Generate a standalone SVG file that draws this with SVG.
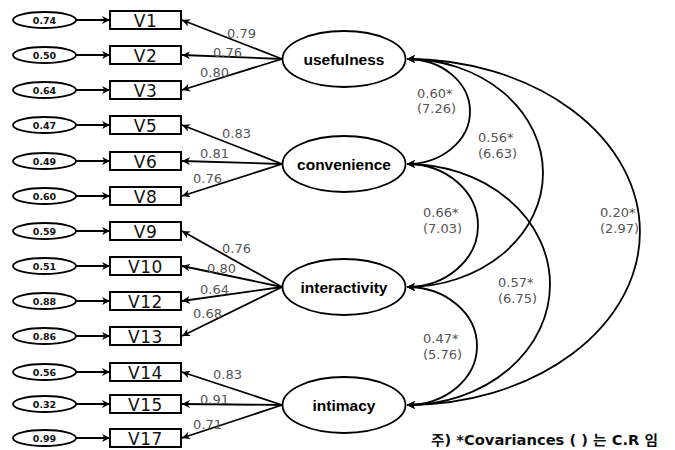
<svg xmlns="http://www.w3.org/2000/svg" width="675" height="450" viewBox="0 0 675 450">
<style>
.err{fill:#fff;stroke:#000;stroke-width:1.8}
.box{fill:#fff;stroke:#000;stroke-width:2}
.fac{fill:#fff;stroke:#000;stroke-width:1.8}
.ev{font-family:"DejaVu Sans",sans-serif;font-size:9.5px;font-weight:bold;fill:#111;text-anchor:middle}
.vl{font-family:"DejaVu Sans",sans-serif;font-size:17px;fill:#111;text-anchor:middle;letter-spacing:0.5px}
.fl{font-family:"Liberation Sans",Arial,sans-serif;font-size:15.5px;font-weight:bold;fill:#000;text-anchor:middle}
.ld{font-family:"DejaVu Sans",sans-serif;font-size:13px;fill:#555}
.cv{font-family:"DejaVu Sans",sans-serif;font-size:13px;fill:#555}
.ln{stroke:#000;stroke-width:1.8;fill:none}
.note{font-family:"DejaVu Sans","Noto Sans CJK KR",sans-serif;font-size:14px;font-weight:bold;fill:#111}
</style>
<defs>
<marker id="ah" viewBox="0 0 10 10" refX="10" refY="5" markerWidth="8" markerHeight="8" markerUnits="userSpaceOnUse" orient="auto-start-reverse">
<path d="M0,0 L10,5 L0,10 L3,5 z" fill="#000"/>
</marker>
</defs>

<g id="connectors">
<g class="ln" marker-end="url(#ah)">
<line x1="76" y1="20" x2="110" y2="20"/>
<line x1="76" y1="55" x2="110" y2="55"/>
<line x1="76" y1="90" x2="110" y2="90"/>
<line x1="76" y1="125" x2="110" y2="125"/>
<line x1="76" y1="161" x2="110" y2="161"/>
<line x1="76" y1="196" x2="110" y2="196"/>
<line x1="76" y1="231" x2="110" y2="231"/>
<line x1="76" y1="266" x2="110" y2="266"/>
<line x1="76" y1="301" x2="110" y2="301"/>
<line x1="76" y1="336" x2="110" y2="336"/>
<line x1="76" y1="372" x2="110" y2="372"/>
<line x1="76" y1="404" x2="110" y2="404"/>
<line x1="76" y1="438" x2="110" y2="438"/>
</g>
<g class="ln" marker-end="url(#ah)">
<line x1="282" y1="59" x2="182" y2="20"/>
<line x1="282" y1="59" x2="182" y2="55"/>
<line x1="282" y1="59" x2="182" y2="90"/>
<line x1="282" y1="164" x2="182" y2="125"/>
<line x1="282" y1="164" x2="182" y2="161"/>
<line x1="282" y1="164" x2="182" y2="196"/>
<line x1="282" y1="287" x2="182" y2="231"/>
<line x1="282" y1="287" x2="182" y2="266"/>
<line x1="282" y1="287" x2="182" y2="301"/>
<line x1="282" y1="287" x2="182" y2="336"/>
<line x1="282" y1="405" x2="182" y2="372"/>
<line x1="282" y1="405" x2="182" y2="404"/>
<line x1="282" y1="405" x2="182" y2="438"/>
</g>
<g class="ln" marker-start="url(#ah)" marker-end="url(#ah)">
<path d="M407,59 A63,52.5 0 0 1 407,164"/>
<path d="M407,59 A136,114 0 0 1 407,287"/>
<path d="M407,59 A233,173 0 0 1 407,405"/>
<path d="M407,164 A71,61.5 0 0 1 407,287"/>
<path d="M407,164 A143,120.5 0 0 1 407,405"/>
<path d="M407,287 A70,59 0 0 1 407,405"/>
</g>
</g>

<g id="errors">
<g id="e1"><ellipse class="err" cx="44.5" cy="20" rx="31.5" ry="8"/><text class="ev" x="44.5" y="23.5">0.74</text></g>
<g id="e2"><ellipse class="err" cx="44.5" cy="55" rx="31.5" ry="8"/><text class="ev" x="44.5" y="58.5">0.50</text></g>
<g id="e3"><ellipse class="err" cx="44.5" cy="90" rx="31.5" ry="8"/><text class="ev" x="44.5" y="93.5">0.64</text></g>
<g id="e5"><ellipse class="err" cx="44.5" cy="125" rx="31.5" ry="8"/><text class="ev" x="44.5" y="128.5">0.47</text></g>
<g id="e6"><ellipse class="err" cx="44.5" cy="161" rx="31.5" ry="8"/><text class="ev" x="44.5" y="164.5">0.49</text></g>
<g id="e8"><ellipse class="err" cx="44.5" cy="196" rx="31.5" ry="8"/><text class="ev" x="44.5" y="199.5">0.60</text></g>
<g id="e9"><ellipse class="err" cx="44.5" cy="231" rx="31.5" ry="8"/><text class="ev" x="44.5" y="234.5">0.59</text></g>
<g id="e10"><ellipse class="err" cx="44.5" cy="266" rx="31.5" ry="8"/><text class="ev" x="44.5" y="269.5">0.51</text></g>
<g id="e12"><ellipse class="err" cx="44.5" cy="301" rx="31.5" ry="8"/><text class="ev" x="44.5" y="304.5">0.88</text></g>
<g id="e13"><ellipse class="err" cx="44.5" cy="336" rx="31.5" ry="8"/><text class="ev" x="44.5" y="339.5">0.86</text></g>
<g id="e14"><ellipse class="err" cx="44.5" cy="372" rx="31.5" ry="8"/><text class="ev" x="44.5" y="375.5">0.56</text></g>
<g id="e15"><ellipse class="err" cx="44.5" cy="404" rx="31.5" ry="8"/><text class="ev" x="44.5" y="407.5">0.32</text></g>
<g id="e17"><ellipse class="err" cx="44.5" cy="438" rx="31.5" ry="8"/><text class="ev" x="44.5" y="441.5">0.99</text></g>
</g>

<g id="indicators">
<g id="V1"><rect class="box" x="110" y="11" width="71" height="18"/><text class="vl" x="145.5" y="26.5">V1</text></g>
<g id="V2"><rect class="box" x="110" y="46" width="71" height="18"/><text class="vl" x="145.5" y="61.5">V2</text></g>
<g id="V3"><rect class="box" x="110" y="81" width="71" height="18"/><text class="vl" x="145.5" y="96.5">V3</text></g>
<g id="V5"><rect class="box" x="110" y="116" width="71" height="18"/><text class="vl" x="145.5" y="131.5">V5</text></g>
<g id="V6"><rect class="box" x="110" y="152" width="71" height="18"/><text class="vl" x="145.5" y="167.5">V6</text></g>
<g id="V8"><rect class="box" x="110" y="187" width="71" height="18"/><text class="vl" x="145.5" y="202.5">V8</text></g>
<g id="V9"><rect class="box" x="110" y="222" width="71" height="18"/><text class="vl" x="145.5" y="237.5">V9</text></g>
<g id="V10"><rect class="box" x="110" y="257" width="71" height="18"/><text class="vl" x="145.5" y="272.5">V10</text></g>
<g id="V12"><rect class="box" x="110" y="292" width="71" height="18"/><text class="vl" x="145.5" y="307.5">V12</text></g>
<g id="V13"><rect class="box" x="110" y="327" width="71" height="18"/><text class="vl" x="145.5" y="342.5">V13</text></g>
<g id="V14"><rect class="box" x="110" y="363" width="71" height="18"/><text class="vl" x="145.5" y="378.5">V14</text></g>
<g id="V15"><rect class="box" x="110" y="395" width="71" height="18"/><text class="vl" x="145.5" y="410.5">V15</text></g>
<g id="V17"><rect class="box" x="110" y="429" width="71" height="18"/><text class="vl" x="145.5" y="444.5">V17</text></g>
</g>

<g id="factors">
<g id="usefulness"><ellipse class="fac" cx="344" cy="59" rx="61.5" ry="28"/><text class="fl" x="344" y="64.5">usefulness</text></g>
<g id="convenience"><ellipse class="fac" cx="344" cy="164" rx="61.5" ry="28"/><text class="fl" x="344" y="169.5">convenience</text></g>
<g id="interactivity"><ellipse class="fac" cx="344" cy="287" rx="61.5" ry="28"/><text class="fl" x="344" y="292.5">interactivity</text></g>
<g id="intimacy"><ellipse class="fac" cx="344" cy="405" rx="61.5" ry="28"/><text class="fl" x="344" y="410.5">intimacy</text></g>
</g>

<g id="loading-labels" class="ld">
<text x="227" y="38">0.79</text>
<text x="213" y="57">0.76</text>
<text x="200" y="77">0.80</text>
<text x="222" y="138">0.83</text>
<text x="200" y="158">0.81</text>
<text x="193" y="183">0.76</text>
<text x="222" y="253">0.76</text>
<text x="207" y="273">0.80</text>
<text x="200" y="294">0.64</text>
<text x="193" y="318">0.68</text>
<text x="213" y="379">0.83</text>
<text x="200" y="404">0.91</text>
<text x="193" y="429">0.71</text>
</g>

<g id="covariance-labels" class="cv">
<text x="417" y="97.5">0.60*</text><text x="417" y="113">(7.26)</text>
<text x="478" y="141.5">0.56*</text><text x="478" y="158">(6.63)</text>
<text x="423" y="216.5">0.66*</text><text x="423" y="232.5">(7.03)</text>
<text x="600" y="216.5">0.20*</text><text x="600" y="232.5">(2.97)</text>
<text x="498" y="286.5">0.57*</text><text x="498" y="303">(6.75)</text>
<text x="423" y="342.5">0.47*</text><text x="423" y="359">(5.76)</text>
</g>

<text class="note" x="431" y="445" textLength="227" lengthAdjust="spacingAndGlyphs">주) *Covariances ( ) 는 C.R 임</text>
</svg>
